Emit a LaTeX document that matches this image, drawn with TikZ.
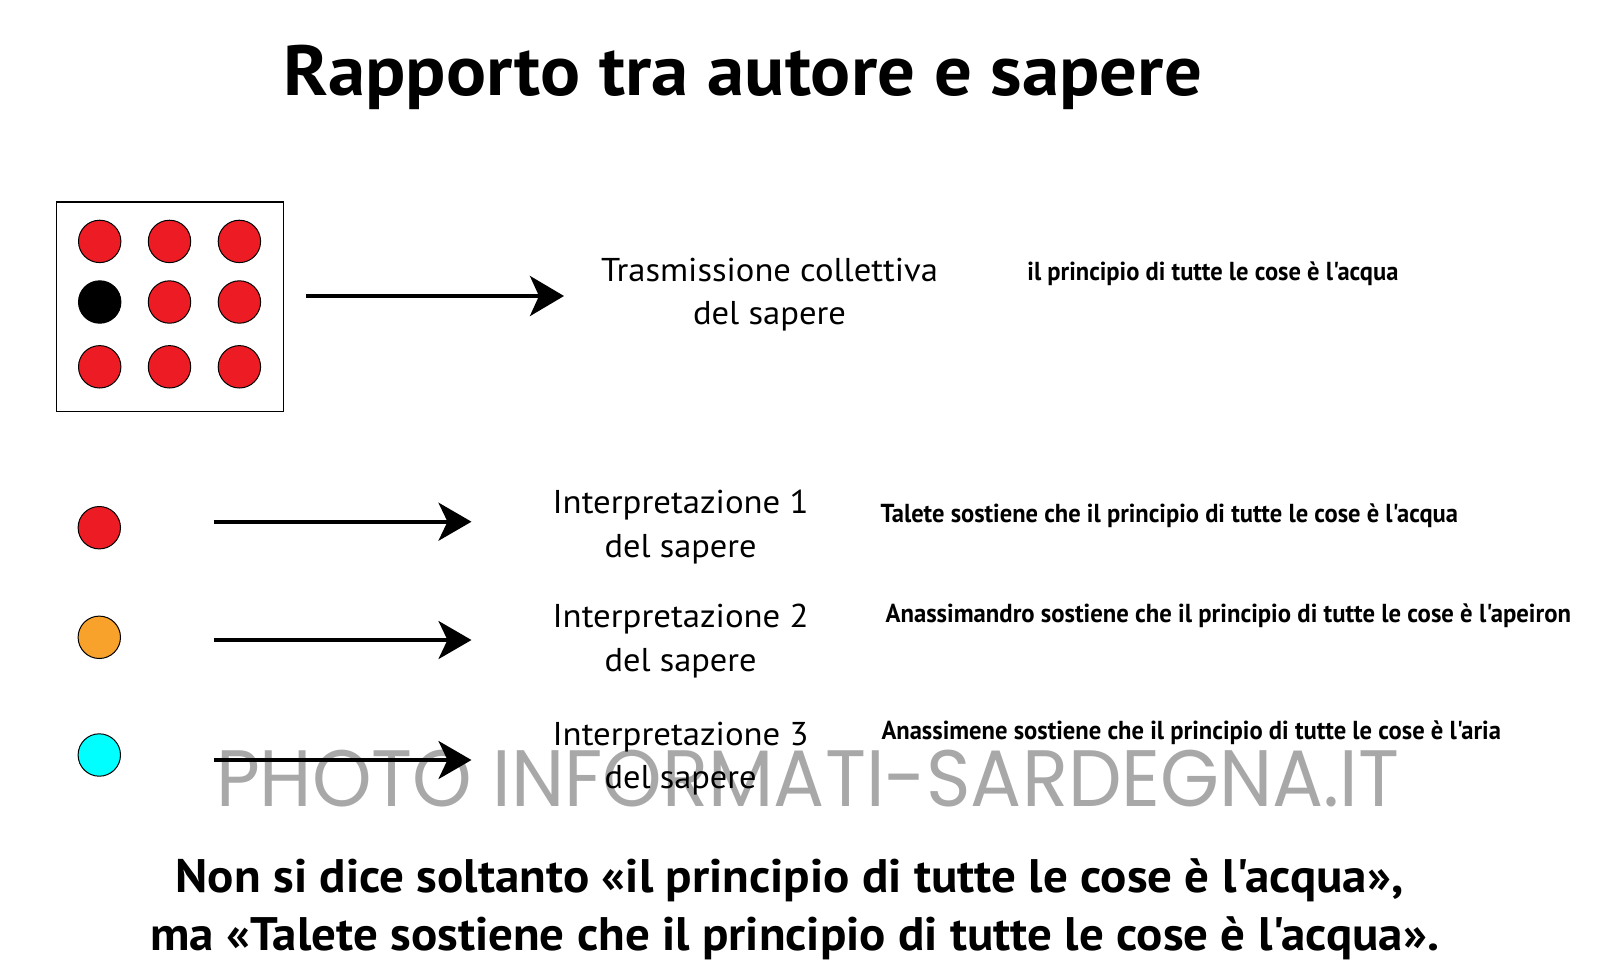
\documentclass[tikz,border=0pt]{standalone}
\usepackage{fontspec}
\setmainfont{PT Sans}[Ligatures=TeXOff]
\newfontfamily\wmfont{Poppins}
\usepackage{graphicx}
\usetikzlibrary{arrows.meta}
\definecolor{dotred}{HTML}{ED1C24}
\definecolor{dotorange}{HTML}{F8A12B}
\definecolor{dotcyan}{HTML}{00FFFF}
\definecolor{wmgray}{HTML}{A8A8A8}
\newcommand{\fitw}[2]{\resizebox{#1pt}{\height}{#2}}
\newcommand{\fsz}[1]{\fontsize{#1pt}{#1pt}\selectfont}
\tikzset{
  txt/.style={inner sep=0pt, outer sep=0pt},
  dot/.style={circle, draw=black, line width=1pt, minimum size=42.4pt, inner sep=0pt},
  bigarrow/.style={-{Stealth[length=34pt,width=40pt,inset=9pt]}, line width=4pt},
  arrowrow/.style={-{Stealth[length=33pt,width=38pt,inset=9pt]}, line width=3.6pt},
  framebox/.style={draw=black, line width=1.3pt}
}
\begin{document}
\begin{tikzpicture}[x=1pt,y=-1pt]
\useasboundingbox (0,0) rectangle (1611,978);
\fill[white] (0,0) rectangle (1611,978);

% watermark (behind)
\node[txt, anchor=base west, text=wmgray] (wm) at (216,806.5)
  {\fitw{1183.5}{\wmfont\fsz{80}PHOTO INFORMATI-SARDEGNA.IT}};

% title
\node[txt, anchor=base west] (title) at (283.5,95.5)
  {\fitw{918.5}{\fsz{71}\bfseries Rapporto tra autore e sapere}};

% box with dots
\node[framebox, minimum width=227pt, minimum height=209.6pt, inner sep=0pt, anchor=north west] (box) at (55.5,201.4) {};
\node[dot, fill=dotred]   (d11) at (99.7,241.4) {};
\node[dot, fill=dotred]   (d12) at (169.5,241.4) {};
\node[dot, fill=dotred]   (d13) at (239.4,241.4) {};
\node[dot, fill=black]    (d21) at (99.7,302) {};
\node[dot, fill=dotred]   (d22) at (169.5,302) {};
\node[dot, fill=dotred]   (d23) at (239.4,302) {};
\node[dot, fill=dotred]   (d31) at (99.7,366.8) {};
\node[dot, fill=dotred]   (d32) at (169.5,366.8) {};
\node[dot, fill=dotred]   (d33) at (239.4,366.8) {};

\coordinate (a0s) at (306,296);
\coordinate (a0e) at (564,296);
\draw[bigarrow] (a0s) -- (a0e);

\node[txt, anchor=base] (tc1) at (769.5,281.5)
  {\fitw{337}{\fsz{33}Trasmissione collettiva}};
\node[txt, anchor=base] (tc2) at (769.5,324.5)
  {\fitw{153}{\fsz{33}del sapere}};
\node[txt, anchor=base west] (s0) at (1027.4,280.5)
  {\fitw{371}{\fsz{26}\bfseries il principio di tutte le cose è l'acqua}};

% row 1
\node[dot, fill=dotred] (c1) at (99.3,527.7) {};
\coordinate (a1s) at (213.7,521.7);
\coordinate (a1e) at (471.5,521.7);
\draw[arrowrow] (a1s) -- (a1e);
\node[txt, anchor=base] (i1a) at (680.6,513.7)
  {\fitw{256}{\fsz{33}Interpretazione 1}};
\node[txt, anchor=base] (i1b) at (680.6,557)
  {\fitw{152}{\fsz{33}del sapere}};
\node[txt, anchor=base west] (s1) at (880.5,522)
  {\fitw{577.5}{\fsz{26}\bfseries Talete sostiene che il principio di tutte le cose è l'acqua}};

% row 2
\node[dot, fill=dotorange] (c2) at (99.3,637.3) {};
\coordinate (a2s) at (213.7,640);
\coordinate (a2e) at (471.5,640);
\draw[arrowrow] (a2s) -- (a2e);
\node[txt, anchor=base] (i2a) at (680.6,627.7)
  {\fitw{256}{\fsz{33}Interpretazione 2}};
\node[txt, anchor=base] (i2b) at (680.6,671)
  {\fitw{152}{\fsz{33}del sapere}};
\node[txt, anchor=base west] (s2) at (885.6,622.6)
  {\fitw{685.4}{\fsz{26}\bfseries Anassimandro sostiene che il principio di tutte le cose è l'apeiron}};

% row 3
\node[dot, fill=dotcyan] (c3) at (99.3,755) {};
\coordinate (a3s) at (213.7,760);
\coordinate (a3e) at (471.5,760);
\draw[arrowrow] (a3s) -- (a3e);
\node[txt, anchor=base] (i3a) at (680.6,745)
  {\fitw{256}{\fsz{33}Interpretazione 3}};
\node[txt, anchor=base] (i3b) at (680.6,788)
  {\fitw{152}{\fsz{33}del sapere}};
\node[txt, anchor=base west] (s3) at (881.5,739.7)
  {\fitw{619.5}{\fsz{26}\bfseries Anassimene sostiene che il principio di tutte le cose è l'aria}};

% bottom statement
\node[txt, anchor=base west] (b1) at (175.7,892)
  {\fitw{1227.7}{\fsz{47}\bfseries Non si dice soltanto «il principio di tutte le cose è l'acqua»,}};
\node[txt, anchor=base west] (b2) at (150,950)
  {\fitw{1289}{\fsz{47}\bfseries ma «Talete sostiene che il principio di tutte le cose è l'acqua».}};
\end{tikzpicture}
\end{document}
